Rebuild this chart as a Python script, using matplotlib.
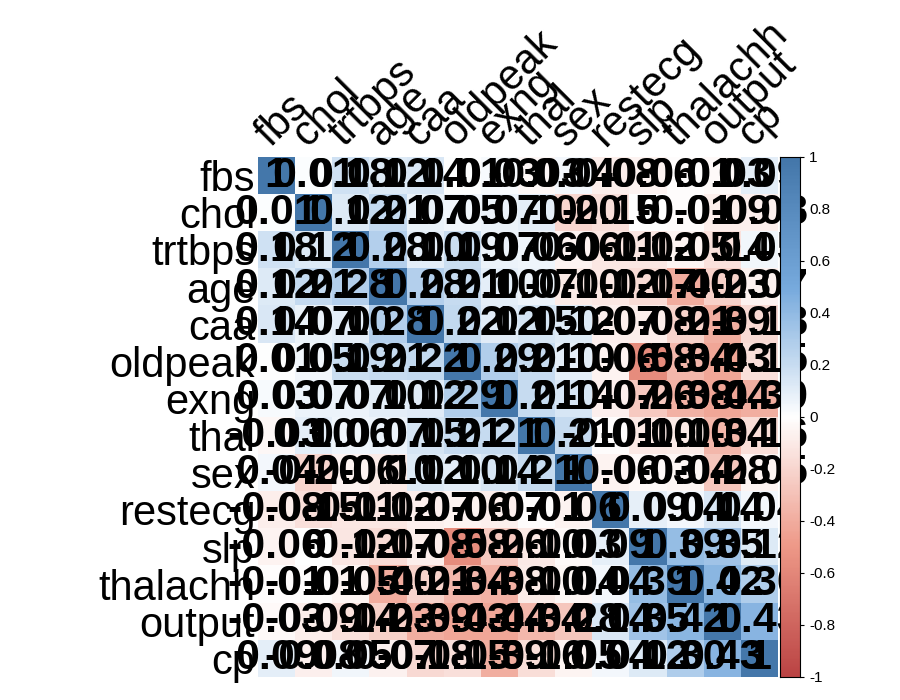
import numpy as np
import matplotlib
matplotlib.use("Agg")
import matplotlib.pyplot as plt
from matplotlib.colors import LinearSegmentedColormap
plt.rcParams['font.family'] = ['Liberation Sans', 'DejaVu Sans']

base = ["age","sex","cp","trtbps","chol","fbs","restecg","thalachh","exng","oldpeak","slp","caa","thal","output"]
upper = {
 "age": [-0.098,-0.069,0.279,0.214,0.121,-0.116,-0.399,0.097,0.210,-0.169,0.276,0.068,-0.225],
 "sex": [-0.049,-0.057,-0.198,0.045,-0.058,-0.044,0.142,0.096,-0.031,0.118,0.210,-0.281],
 "cp": [0.048,-0.077,0.094,0.044,0.296,-0.394,-0.149,0.120,-0.181,-0.162,0.434],
 "trtbps": [0.123,0.178,-0.114,-0.047,0.068,0.193,-0.121,0.101,0.062,-0.145],
 "chol": [0.013,-0.151,-0.010,0.067,0.054,-0.004,0.071,0.099,-0.085],
 "fbs": [-0.084,-0.009,0.026,0.006,-0.060,0.138,-0.032,-0.028],
 "restecg": [0.044,-0.071,-0.059,0.093,-0.072,-0.012,0.137],
 "thalachh": [-0.379,-0.344,0.387,-0.213,-0.096,0.422],
 "exng": [0.288,-0.258,0.116,0.207,-0.437],
 "oldpeak": [-0.578,0.223,0.210,-0.431],
 "slp": [-0.080,-0.104,0.346],
 "caa": [0.152,-0.392],
 "thal": [-0.344],
}
order = ["fbs","chol","trtbps","age","caa","oldpeak","exng","thal","sex","restecg","slp","thalachh","output","cp"]

n = len(base)
C = np.eye(n)
for i, v in enumerate(base[:-1]):
    for k, val in enumerate(upper[v]):
        j = i + 1 + k
        C[i, j] = C[j, i] = val
idx = [base.index(o) for o in order]
M = C[np.ix_(idx, idx)]

cmap = LinearSegmentedColormap.from_list("cp", ["#BB4444","#EE9988","#FFFFFF","#77AADD","#4477AA"])

fig = plt.figure(figsize=(9, 7), dpi=100)
ax = fig.add_axes([258/900, 23/700, 520/900, 520/700])
ax.imshow(M, cmap=cmap, vmin=-1, vmax=1, aspect="auto", extent=(-0.5, n-0.5, n-0.5, -0.5))
for i in range(n):
    for j in range(n):
        s = "1" if i == j else f"{M[i,j]:.2f}"
        if s == "-0.00": s = "0"
        ax.text(j, i, s, ha="center", va="center", fontsize=31, fontweight="bold", color="black")
ax.set_xticks(range(n))
ax.set_yticks(range(n))
ax.set_yticklabels(order, fontsize=30)
ax.xaxis.tick_top()
ax.set_xticklabels(order, fontsize=30, rotation=45, ha="left", rotation_mode="anchor")
ax.tick_params(length=0, pad=2)
for s in ax.spines.values():
    s.set_visible(False)

cax = fig.add_axes([780/900, 23/700, 20/900, 520/700])
grad = np.linspace(-1, 1, 200).reshape(-1, 1)
cax.imshow(grad, cmap=cmap, aspect="auto", origin="lower", extent=(0, 1, -1, 1))
cax.set_xticks([])
cax.yaxis.tick_right()
cax.set_yticks(np.round(np.arange(-1, 1.01, 0.2), 1))
cax.set_yticklabels(["-1","-0.8","-0.6","-0.4","-0.2","0","0.2","0.4","0.6","0.8","1"], fontsize=11)
cax.tick_params(length=3)
fig.savefig("out.png")
